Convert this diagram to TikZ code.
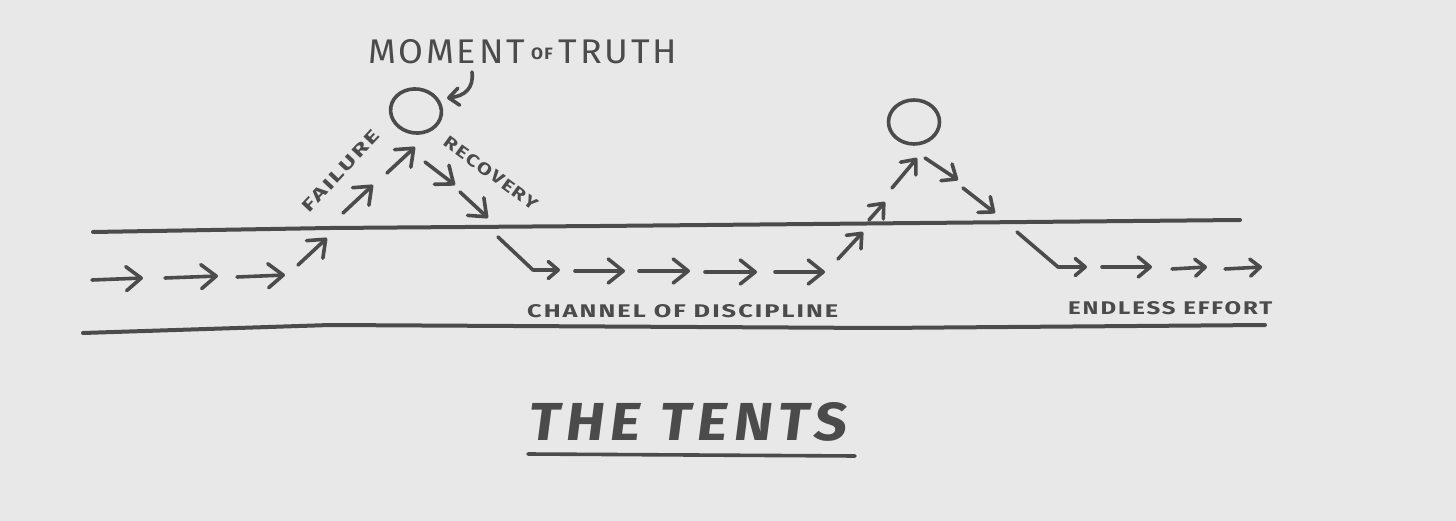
\documentclass[tikz,border=0pt]{standalone}
\usepackage{fontspec}
\usepackage{graphicx}
\setmainfont{Fira Sans}
\usetikzlibrary{arrows.meta,shapes.geometric}
\definecolor{paper}{HTML}{E8E8E8}
\definecolor{inkc}{HTML}{4B4B4B}
\tikzset{
  inkline/.style={draw=inkc, line width=3.6pt, line cap=round, line join=round},
  chan/.style={draw=inkc, line width=4pt, line cap=round},
  bigarr/.style={inkline, -{Straight Barb[length=15pt,width=24pt,round]}},
  midarr/.style={inkline, -{Straight Barb[length=12pt,width=20pt,round]}},
  smallarr/.style={inkline, -{Straight Barb[length=10pt,width=17pt,round]}},
  tent/.style={draw=inkc, line width=3.6pt, ellipse, inner sep=0pt, minimum width=51pt, minimum height=44pt},
  lbl/.style={text=inkc, inner sep=0pt, font=\bfseries\addfontfeatures{LetterSpace=8}},
}
\begin{document}
\begin{tikzpicture}[x=1pt,y=-1pt]
\fill[paper] (0,0) rectangle (1456,521);
\useasboundingbox (0,0) rectangle (1456,521);

% channel lines
\draw[chan] (93,232) -- (330,228) -- (600,226) -- (1240,220);
\draw[chan] (83,333) -- (330,325) -- (880,328) -- (1265,325);

% tents (moments of truth)
\node[tent, rotate=-8] (mt1) at (416,111) {};
\node[tent] (mt2) at (914,122) {};

% labels
\node[lbl, anchor=south west, font={\addfontfeatures{LetterSpace=8}}] (moment) at (368,64)
  {\resizebox{309pt}{24pt}{MOMENT\,\raisebox{1pt}{\fontsize{4.8}{5}\selectfont\bfseries OF}\,TRUTH}};
\node[lbl, rotate=47] (failure) at (341,171) {\resizebox{105pt}{12pt}{FAILURE}};
\node[lbl, rotate=-36] (recovery) at (491,173) {\resizebox{112pt}{12pt}{RECOVERY}};
\node[lbl, anchor=south west] (channel) at (527,318)
  {\resizebox{311pt}{13pt}{CHANNEL OF DISCIPLINE}};
\node[lbl, anchor=south west] (endless) at (1068,315)
  {\resizebox{204pt}{13pt}{ENDLESS EFFORT}};
\node[lbl, anchor=south west, font={\bfseries\addfontfeatures{LetterSpace=10,FakeSlant=0.12}}] (title) at (527,442)
  {\resizebox{318pt}{38pt}{THE TENTS}};
\draw[inkline] (title.south west) ++(1,12) coordinate (ul1) -- ++(327,2) coordinate (ul2);

% pointer to the first tent
\coordinate (ptr) at (472,72);
\coordinate (ptrend) at (447,98);
\draw[smallarr] (ptr) .. controls (474,88) and (465,96) .. (ptrend);

% first run of arrows
\draw[bigarr] (92,280) -- (143,278);
\draw[bigarr] (165,278) -- (218,276);
\draw[bigarr] (237,277) -- (285,275);
\draw[bigarr] (298,265) -- (327,238);
\draw[bigarr] (343,213) -- (373,185);
\draw[bigarr] (387,173) -- (415,147);
\draw[bigarr] (425,162) -- (455,185);
\draw[bigarr] (460,192) -- (488,218);
\draw[smallarr] (498,237) -- (533,270) -- (560,270);

% second run
\draw[bigarr] (575,271) -- (625,271);
\draw[bigarr] (639,271) -- (690,271);
\draw[bigarr] (705,272) -- (757,272);
\draw[bigarr] (775,272) -- (825,272);
\draw[midarr] (838,259) -- (863,232);
\draw[midarr] (869,220) -- (885,202);
\draw[midarr] (892,188) -- (917,158);
\draw[midarr] (925,158) -- (958,180);
\draw[midarr] (963,188) -- (995,213);
\draw[smallarr] (1017,232) -- (1058,267) -- (1087,267);

% endless effort
\draw[midarr] (1102,267) -- (1152,267);
\draw[smallarr] (1172,269) -- (1207,267);
\draw[smallarr] (1225,269) -- (1262,267);
\end{tikzpicture}
\end{document}
